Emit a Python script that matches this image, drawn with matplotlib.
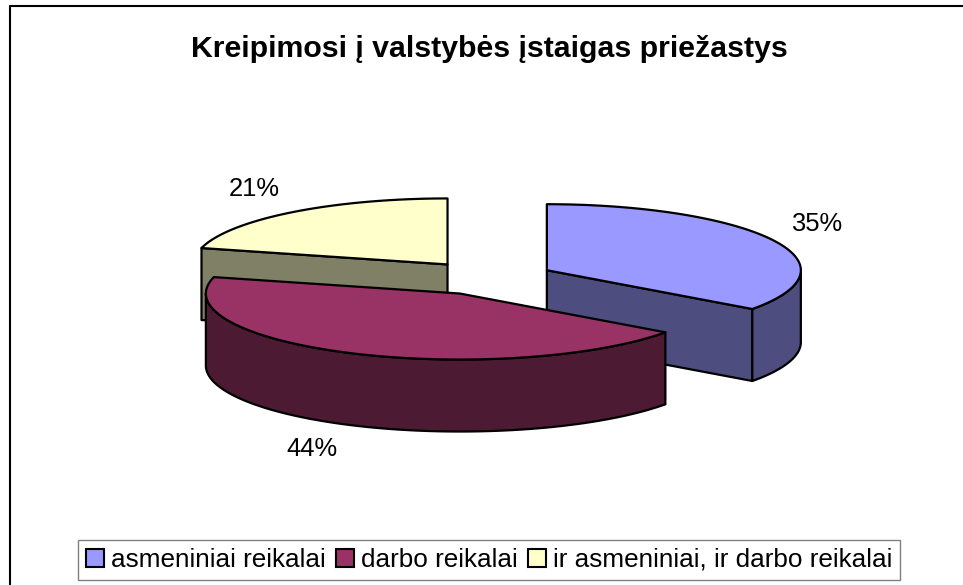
#!/usr/bin/env python3
"""Exploded 3D-style pie chart (Excel look) drawn with plain matplotlib patches."""

import numpy as np
import matplotlib.pyplot as plt
from matplotlib.patches import Polygon, Patch

title = "Kreipimosi į valstybės įstaigas priežastys"
labels = ["asmeniniai reikalai", "darbo reikalai", "ir asmeniniai, ir darbo reikalai"]
values = [35, 44, 21]
top_colors = ["#9999FF", "#993366", "#FFFFCC"]
side_colors = ["#4D4D80", "#4D1A33", "#808066"]

# pie geometry (pixel space, y grows downward)
CX, CY = 488, 278
RX, RY = 254, 66
DEPTH = 72
EXPLODE = 0.26

plt.rcParams["font.family"] = ["Liberation Sans", "DejaVu Sans"]


def ell(theta_deg, cx, cy, dy=0.0):
    """Point(s) on the pie rim; theta clockwise from 12 o'clock."""
    t = np.radians(theta_deg)
    return cx + RX * np.sin(t), cy - RY * np.cos(t) + dy


def draw_slice(ax, start, end, top, side):
    mid = (start + end) / 2
    m = np.radians(mid)
    cx = CX + EXPLODE * RX * np.sin(m)
    cy = CY - EXPLODE * RY * np.cos(m)
    kw = dict(edgecolor="black", linewidth=1.6, joinstyle="round")

    # cut faces (only those turned toward the viewer)
    for ang, visible in ((start, np.sin(np.radians(start)) < -1e-6),
                         (end, np.sin(np.radians(end)) > 1e-6)):
        if visible:
            ex, ey = ell(ang, cx, cy)
            quad = [(cx, cy), (ex, ey), (ex, ey + DEPTH), (cx, cy + DEPTH)]
            ax.add_patch(Polygon(quad, closed=True, facecolor=side, **kw))

    # outer wall, front half only
    a0, a1 = max(start, 90), min(end, 270)
    if a1 > a0:
        th = np.linspace(a0, a1, 120)
        xs, ys = ell(th, cx, cy)
        pts = list(zip(xs, ys)) + list(zip(xs[::-1], ys[::-1] + DEPTH))
        ax.add_patch(Polygon(pts, closed=True, facecolor=side, **kw))

    # top face
    th = np.linspace(start, end, 200)
    xs, ys = ell(th, cx, cy)
    pts = [(cx, cy)] + list(zip(xs, ys))
    ax.add_patch(Polygon(pts, closed=True, facecolor=top, **kw))
    return cx, cy, mid


def main():
    fig = plt.figure(figsize=(9.63, 5.85), dpi=100)
    ax = fig.add_axes([0, 0, 1, 1])
    ax.set_xlim(0, 963)
    ax.set_ylim(585, 0)
    ax.axis("off")

    # chart frame (runs off the right/bottom edge like the original)
    ax.plot([10, 10, 963], [585, 6, 6], color="black", linewidth=1.5)

    total = sum(values)
    bounds = np.cumsum([0] + values) / total * 360
    slices = []
    for i in range(len(values)):
        mid = np.radians((bounds[i] + bounds[i + 1]) / 2)
        depth = -np.cos(mid)  # larger = nearer the viewer
        slices.append((depth, i))

    for _, i in sorted(slices):
        cx, cy, mid = draw_slice(ax, bounds[i], bounds[i + 1], top_colors[i], side_colors[i])
        s, c = np.sin(np.radians(mid)), np.cos(np.radians(mid))
        ex, ey = ell(mid, cx, cy, DEPTH if c < 0 else 0)
        lx, ly = ex + 20 * s, ey - 20 * c
        if c < 0:
            lx -= 6
            ly += 13
        ax.text(lx, ly, f"{values[i]}%", fontsize=18.4,
                ha="left" if s > 0 else "right", va="baseline")

    ax.text(489, 57, title, fontsize=21.8, fontweight="bold", ha="center", va="baseline")

    handles = [Patch(facecolor=top_colors[i], edgecolor="black", linewidth=1.5)
               for i in range(len(values))]
    leg = ax.legend(handles, labels, loc="center", bbox_to_anchor=(489, 560),
                    bbox_transform=ax.transData, ncol=3, fontsize=18.8,
                    frameon=True, fancybox=False, shadow=False,
                    handlelength=0.7, handleheight=0.7, handletextpad=0.25,
                    columnspacing=0.4, borderpad=0.3, borderaxespad=0)
    leg.get_frame().set_edgecolor("#606060")
    leg.get_frame().set_linewidth(1.0)

    fig.savefig("out.png", dpi=100, facecolor="white")


if __name__ == "__main__":
    main()
